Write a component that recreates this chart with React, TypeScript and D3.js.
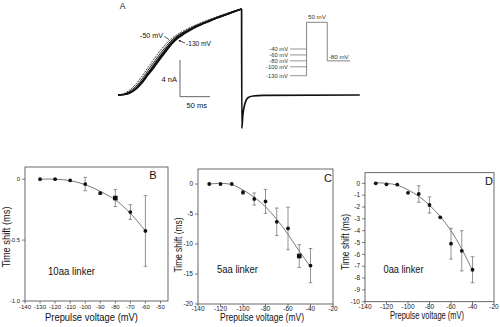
import React from 'react';
import * as d3 from 'd3';

const FONT = "'Liberation Sans', Arial, Helvetica, sans-serif";

// ---------- Panel A: current traces (time in ms, current in nA) ----------
const TRACE_T = [0, 10, 20, 30, 40, 50, 60, 70, 80, 90, 100, 110, 120, 130, 140, 150, 160, 170, 180, 190, 200, 206];
const TRACE_M130 = [0, 0.04, 0.22, 0.62, 1.3, 2.18, 3.0, 3.9, 4.75, 5.6, 6.2, 6.65, 7.05, 7.4, 7.7, 7.97, 8.25, 8.5, 8.74, 8.98, 9.22, 9.38];
const TRACE_M100 = [0, 0.05, 0.26, 0.7, 1.4, 2.3, 3.15, 4.05, 4.9, 5.7, 6.3, 6.72, 7.1, 7.45, 7.74, 8.0, 8.27, 8.52, 8.76, 9.0, 9.23, 9.38];
const TRACE_M80 = [0, 0.06, 0.3, 0.78, 1.5, 2.42, 3.3, 4.2, 5.05, 5.82, 6.4, 6.8, 7.16, 7.5, 7.78, 8.04, 8.3, 8.55, 8.78, 9.02, 9.25, 9.38];
const TRACE_M60 = [0, 0.1, 0.42, 0.98, 1.75, 2.7, 3.6, 4.5, 5.3, 6.0, 6.52, 6.9, 7.25, 7.57, 7.85, 8.1, 8.35, 8.6, 8.83, 9.06, 9.28, 9.39];
const TRACE_M40 = [0, 0.15, 0.58, 1.22, 2.05, 3.0, 3.92, 4.8, 5.58, 6.18, 6.65, 7.02, 7.36, 7.66, 7.93, 8.18, 8.42, 8.66, 8.88, 9.1, 9.3, 9.4];
const TAIL_T = [206, 206.3, 208, 211.7, 217, 225, 242, 403];
const TAIL_I = [9.38, -3.63, -2.2, -0.9, -0.28, -0.11, -0.03, 0];

const PREPULSE_V = [-40, -60, -80, -100, -130];
const PREPULSE_LABELS = ['-40 mV', '-60 mV', '-80 mV', '-100 mV', '-130 mV'];
const TEST_V = 50;
const HOLD_V = -80;
const PROTOCOL_T = [0, 40, 90, 145]; // schematic segment boundaries

// ---------- Panels B, C, D ----------
const B_V = [-130, -120, -110, -100, -90, -80, -70, -60];
const B_SHIFT = [0, 0, -0.01, -0.04, -0.115, -0.155, -0.27, -0.425];
const B_ERR = [0, 0, 0, 0.055, 0.01, 0.07, 0.06, 0.29];
const B_FIT = [0, 0, -0.012, -0.045, -0.1, -0.17, -0.28, -0.425];
const B_XTICKS = [-140, -130, -120, -110, -100, -90, -80, -70, -60, -50];
const B_YTICKS = [0, -0.5, -1.0];
const B_YLABELS = ['0', '-0.5', '-1.0'];

const C_V = [-130, -120, -110, -100, -90, -80, -70, -60, -50, -40];
const C_SHIFT = [0, 0, 0, -1.4, -2.5, -2.9, -6.3, -7.4, -12, -13.6];
const C_ERR = [0, 0, 0, 0.3, 1.0, 2.0, 2.3, 3.55, 1.9, 2.85];
const C_FIT = [0, 0.1, -0.1, -1.0, -2.2, -3.8, -5.9, -8.4, -11.2, -13.8];
const C_XTICKS = [-140, -120, -100, -80, -60, -40, -20];
const C_YTICKS = [0, -5, -10, -15, -20];

const D_V = [-130, -120, -110, -100, -90, -80, -70, -60, -50, -40];
const D_SHIFT = [0, -0.08, -0.1, -0.8, -0.9, -1.83, -2.87, -5.1, -5.7, -7.3];
const D_ERR = [0, 0, 0, 0, 0.7, 0.68, 0, 1.3, 1.7, 1.1];
const D_FIT = [0.05, 0, -0.15, -0.55, -1.1, -1.85, -2.8, -4.0, -5.55, -7.35];
const D_XTICKS = [-140, -120, -100, -80, -60, -40, -20];
const D_YTICKS = [0, -1, -2, -3, -4, -5, -6, -7, -8, -9, -10];

type PanelCfg = {
  x: d3.ScaleLinear<number, number>;
  y: d3.ScaleLinear<number, number>;
  V: number[];
  vals: number[];
  errs: number[];
  fit: number[];
  squareIdx: number[];
  xTicks: number[];
  yTicks: number[];
  yLabels: string[];
  tickFont: number;
  tickGap: number;
  letter: string;
  letterXY: [number, number];
  label: string;
  labelXY: [number, number];
  labelLen: number;
  xTitleXY: [number, number];
  xTitleLen: number;
  yTitleXY: [number, number];
  yTitleLen: number;
};

function Panel({ c }: { c: PanelCfg }) {
  const [x0, x1] = c.x.range();
  const [y0, y1] = c.y.range();
  const fitLine = d3
    .line<number>()
    .x((_, i) => c.x(c.V[i]))
    .y((d) => c.y(d))
    .curve(d3.curveCatmullRom.alpha(0.5));
  return (
    <g fontFamily={FONT}>
      <rect x={x0} y={y1} width={x1 - x0} height={y0 - y1} fill="none" stroke="#444" strokeWidth={0.8} />
      {c.xTicks.map((t) => (
        <g key={'xt' + t}>
          <line x1={c.x(t)} x2={c.x(t)} y1={y0} y2={y0 + 2.5} stroke="#444" strokeWidth={0.7} />
          <text x={c.x(t)} y={y0 + c.tickGap} fontSize={c.tickFont} textAnchor="middle" fill="#222">
            {String(t)}
          </text>
        </g>
      ))}
      {c.yTicks.map((t, i) => (
        <g key={'yt' + t}>
          <line x1={x0 - 3} x2={x0} y1={c.y(t)} y2={c.y(t)} stroke="#444" strokeWidth={0.7} />
          <text x={x0 - 5} y={c.y(t) + 2.3} fontSize={c.tickFont} textAnchor="end" fill="#222">
            {c.yLabels[i]}
          </text>
        </g>
      ))}
      <path d={fitLine(c.fit) || ''} fill="none" stroke="#555" strokeWidth={0.8} />
      {c.V.map((v, i) =>
        c.errs[i] > 0 ? (
          <g key={'e' + v} stroke="#777" strokeWidth={0.8}>
            <line x1={c.x(v)} x2={c.x(v)} y1={c.y(c.vals[i] + c.errs[i])} y2={c.y(c.vals[i] - c.errs[i])} />
            <line x1={c.x(v) - 1.8} x2={c.x(v) + 1.8} y1={c.y(c.vals[i] + c.errs[i])} y2={c.y(c.vals[i] + c.errs[i])} />
            <line x1={c.x(v) - 1.8} x2={c.x(v) + 1.8} y1={c.y(c.vals[i] - c.errs[i])} y2={c.y(c.vals[i] - c.errs[i])} />
          </g>
        ) : null
      )}
      {c.V.map((v, i) =>
        c.squareIdx.includes(i) ? (
          <rect key={'m' + v} x={c.x(v) - 2.3} y={c.y(c.vals[i]) - 2.3} width={4.6} height={4.6} fill="#111" />
        ) : (
          <circle key={'m' + v} cx={c.x(v)} cy={c.y(c.vals[i])} r={1.9} fill="#111" />
        )
      )}
      <text x={c.letterXY[0]} y={c.letterXY[1]} fontSize={11} fill="#111" textAnchor="middle">
        {c.letter}
      </text>
      <text x={c.labelXY[0]} y={c.labelXY[1]} fontSize={11} fill="#111" textLength={c.labelLen} lengthAdjust="spacingAndGlyphs">
        {c.label}
      </text>
      <text x={c.xTitleXY[0]} y={c.xTitleXY[1]} fontSize={11} fill="#111" textLength={c.xTitleLen} lengthAdjust="spacingAndGlyphs">
        Prepulse voltage (mV)
      </text>
      <text
        transform={`translate(${c.yTitleXY[0]},${c.yTitleXY[1]}) rotate(-90)`}
        fontSize={10.5}
        fill="#111"
        textAnchor="middle"
        textLength={c.yTitleLen}
        lengthAdjust="spacingAndGlyphs"
      >
        Time shift (ms)
      </text>
    </g>
  );
}

function PanelA() {
  const x = d3.scaleLinear().domain([0, 400]).range([118, 358]);
  const y = d3.scaleLinear().domain([-4, 10]).range([131.7, 3.3]);
  const traceLine = d3
    .line<number>()
    .x((_, i) => x(TRACE_T[i]))
    .y((d) => y(d))
    .curve(d3.curveCatmullRom.alpha(0.5));
  const tailLine = d3
    .line<number>()
    .x((_, i) => x(TAIL_T[i]))
    .y((d) => y(d))
    .curve(d3.curveMonotoneX);
  const traces = [
    { d: TRACE_M130, w: 1.4, dash: undefined as string | undefined },
    { d: TRACE_M100, w: 1.3, dash: undefined },
    { d: TRACE_M80, w: 1.3, dash: undefined },
    { d: TRACE_M60, w: 0.9, dash: undefined },
    { d: TRACE_M40, w: 0.8, dash: '2,1' },
  ];
  // protocol inset
  const px = d3.scaleLinear().domain([PROTOCOL_T[0], PROTOCOL_T[3]]).range([290, 350]);
  const pv = d3.scaleLinear().domain([-130, 50]).range([75.7, 22.3]);
  // scale bar
  const sbT = 103.3;
  const sbI = -0.18;
  return (
    <g fontFamily={FONT}>
      <text x={122.5} y={9} fontSize={8.5} fill="#111" textAnchor="middle">A</text>
      {traces.map((t, i) => (
        <path key={i} d={traceLine(t.d) || ''} fill="none" stroke="#111" strokeWidth={t.w} strokeDasharray={t.dash} />
      ))}
      <path d={tailLine(TAIL_I) || ''} fill="none" stroke="#111" strokeWidth={1.7} />
      {/* annotations */}
      <text x={140} y={37.5} fontSize={7} fill="#111" textLength={23} lengthAdjust="spacingAndGlyphs">-50 mV</text>
      <line x1={164.5} y1={36.5} x2={169} y2={39.5} stroke="#111" strokeWidth={0.7} />
      <text x={186} y={46} fontSize={7.5} fill="#111" textLength={25} lengthAdjust="spacingAndGlyphs">-130 mV</text>
      <line x1={185} y1={43} x2={179} y2={40.5} stroke="#111" strokeWidth={0.7} />
      <path d="M178.5,40.2 l2.6,0.1 l-1.2,1.8 z" fill="#111" />
      {/* scale bar */}
      <line x1={x(sbT)} x2={x(sbT)} y1={y(sbI)} y2={y(sbI + 4)} stroke="#555" strokeWidth={0.9} />
      <line x1={x(sbT)} x2={x(sbT + 50)} y1={y(sbI)} y2={y(sbI)} stroke="#555" strokeWidth={0.9} />
      <text x={x(sbT) - 3} y={y(sbI + 1.6)} fontSize={7.5} fill="#111" textAnchor="end">4 nA</text>
      <text x={x(sbT + 28)} y={y(sbI - 1.2)} fontSize={7.5} fill="#111" textAnchor="middle">50 ms</text>
      {/* protocol */}
      {PREPULSE_V.map((v, i) => (
        <g key={v}>
          <line x1={px(PROTOCOL_T[0])} x2={px(PROTOCOL_T[1])} y1={pv(v)} y2={pv(v)} stroke="#666" strokeWidth={0.7} />
          <text x={px(PROTOCOL_T[0]) - 2} y={pv(v) + 2} fontSize={5.8} fill="#333" textAnchor="end">{PREPULSE_LABELS[i]}</text>
        </g>
      ))}
      <path
        d={`M${px(PROTOCOL_T[1])},${pv(-130)} V${pv(TEST_V)} H${px(PROTOCOL_T[2])} V${pv(HOLD_V)} H${px(PROTOCOL_T[3])}`}
        fill="none"
        stroke="#666"
        strokeWidth={0.8}
      />
      <text x={(px(PROTOCOL_T[1]) + px(PROTOCOL_T[2])) / 2} y={pv(TEST_V) - 3.5} fontSize={6.2} fill="#333" textAnchor="middle">50 mV</text>
      <text x={px(PROTOCOL_T[2]) + 1.5} y={pv(HOLD_V) - 1.5} fontSize={6.2} fill="#333">{HOLD_V} mV</text>
    </g>
  );
}

export default function App() {
  const B: PanelCfg = {
    x: d3.scaleLinear().domain([-140, -45]).range([25, 168]),
    y: d3.scaleLinear().domain([-1.0, 0.1]).range([301, 167]),
    V: B_V, vals: B_SHIFT, errs: B_ERR, fit: B_FIT, squareIdx: [5],
    xTicks: B_XTICKS, yTicks: B_YTICKS, yLabels: B_YLABELS, tickFont: 6, tickGap: 8,
    letter: 'B', letterXY: [153, 179],
    label: '10aa linker', labelXY: [48, 275], labelLen: 47,
    xTitleXY: [45, 320.5], xTitleLen: 93,
    yTitleXY: [10, 237], yTitleLen: 61,
  };
  const C: PanelCfg = {
    x: d3.scaleLinear().domain([-140, -20]).range([198, 333]),
    y: d3.scaleLinear().domain([-20, 2.5]).range([304, 169]),
    V: C_V, vals: C_SHIFT, errs: C_ERR, fit: C_FIT, squareIdx: [8],
    xTicks: C_XTICKS, yTicks: C_YTICKS, yLabels: C_YTICKS.map(String), tickFont: 6.5, tickGap: 7,
    letter: 'C', letterXY: [328, 182],
    label: '5aa  linker', labelXY: [217, 272.5], labelLen: 41,
    xTitleXY: [220, 320.5], xTitleLen: 84,
    yTitleXY: [181.5, 245], yTitleLen: 55,
  };
  const D: PanelCfg = {
    x: d3.scaleLinear().domain([-140, -20]).range([365, 494]),
    y: d3.scaleLinear().domain([-10, 0.9]).range([301.7, 172.7]),
    V: D_V, vals: D_SHIFT, errs: D_ERR, fit: D_FIT, squareIdx: [],
    xTicks: D_XTICKS, yTicks: D_YTICKS, yLabels: D_YTICKS.map(String), tickFont: 6.5, tickGap: 7.5,
    letter: 'D', letterXY: [489, 185],
    label: '0aa  linker', labelXY: [383.5, 273], labelLen: 40,
    xTitleXY: [390, 319], xTitleLen: 74,
    yTitleXY: [349, 242], yTitleLen: 56,
  };
  return (
    <svg width={500} height={327} viewBox="0 0 500 327" style={{ position: 'fixed', left: 0, top: 0, background: '#fff' }}>
      <rect x={0} y={0} width={500} height={327} fill="#fff" />
      <PanelA />
      <Panel c={B} />
      <Panel c={C} />
      <Panel c={D} />
    </svg>
  );
}
